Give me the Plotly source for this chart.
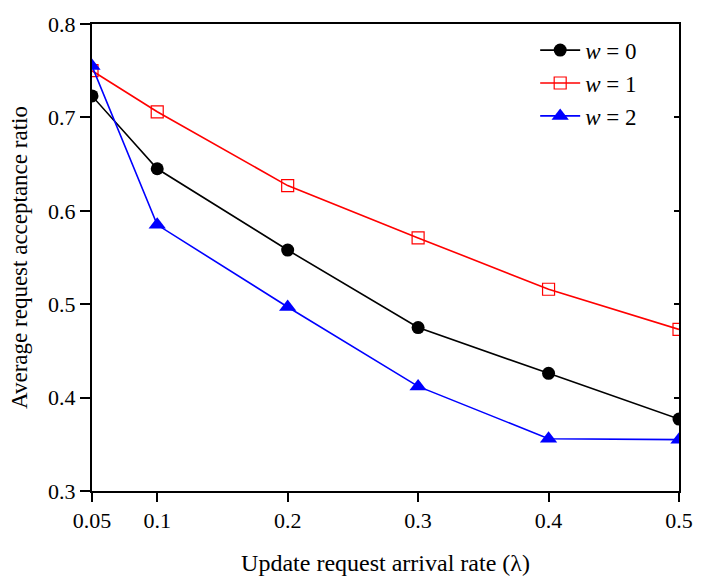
import plotly.graph_objects as go

x = [0.05, 0.1, 0.2, 0.3, 0.4, 0.5]
w0 = [0.723, 0.645, 0.558, 0.475, 0.426, 0.377]
w1 = [0.750, 0.706, 0.627, 0.571, 0.516, 0.473]
w2 = [0.755, 0.585, 0.497, 0.412, 0.356, 0.355]
xticks = [0.05, 0.1, 0.2, 0.3, 0.4, 0.5]
xticklabels = ["0.05", "0.1", "0.2", "0.3", "0.4", "0.5"]
yticks = [0.3, 0.4, 0.5, 0.6, 0.7, 0.8]
names = ["<i>w</i> = 0", "<i>w</i> = 1", "<i>w</i> = 2"]

FONT = "Liberation Serif"

fig = go.Figure()
fig.add_trace(go.Scatter(x=x, y=w0, name=names[0], mode="lines+markers",
                         line=dict(color="black", width=1.6),
                         marker=dict(symbol="circle", size=13, color="black")))
fig.add_trace(go.Scatter(x=x, y=w1, name=names[1], mode="lines+markers",
                         line=dict(color="red", width=1.6),
                         marker=dict(symbol="square-open", size=12, color="red", line=dict(width=1.2))))
fig.add_trace(go.Scatter(x=x, y=w2, name=names[2], mode="lines+markers",
                         line=dict(color="blue", width=1.6),
                         marker=dict(symbol="triangle-up", size=15, color="blue")))
# invisible trace for right-side inner ticks
fig.add_trace(go.Scatter(x=[x[0]], y=[w0[0]], yaxis="y2", mode="markers",
                         marker=dict(opacity=0), showlegend=False, hoverinfo="skip"))

fig.update_layout(
    width=705, height=584,
    margin=dict(l=92, r=15, t=14, b=89),
    plot_bgcolor="white", paper_bgcolor="white",
    font=dict(family=FONT, size=22, color="black"),
    showlegend=True,
    legend=dict(x=0.755, y=0.99, xanchor="left", yanchor="top",
                bgcolor="rgba(0,0,0,0)", font=dict(family=FONT, size=23),
                tracegroupgap=0, itemwidth=40),
    xaxis=dict(range=[0.05, 0.5], tickvals=xticks, ticktext=xticklabels,
               showgrid=False, zeroline=False, showline=True, linecolor="black",
               linewidth=2, mirror=True, ticks="outside", ticklen=9, tickwidth=1.5,
               tickcolor="black", tickfont=dict(family=FONT, size=22),
               title=dict(text="Update request arrival rate (λ)", standoff=22,
                          font=dict(family=FONT, size=24))),
    yaxis=dict(range=[0.3, 0.8], tickvals=yticks, tickformat=".1f",
               showgrid=False, zeroline=False, showline=True, linecolor="black",
               linewidth=2, mirror=True, ticks="outside", ticklen=10, tickwidth=1.5,
               tickcolor="black", tickfont=dict(family=FONT, size=22),
               title=dict(text="Average request acceptance ratio", standoff=14,
                          font=dict(family=FONT, size=23))),
    yaxis2=dict(range=[0.3, 0.8], tickvals=yticks, overlaying="y", side="right",
                showticklabels=False, showgrid=False, zeroline=False, showline=False,
                ticks="inside", ticklen=5, tickwidth=1.5, tickcolor="black"),
)

fig.write_html("out.html")
